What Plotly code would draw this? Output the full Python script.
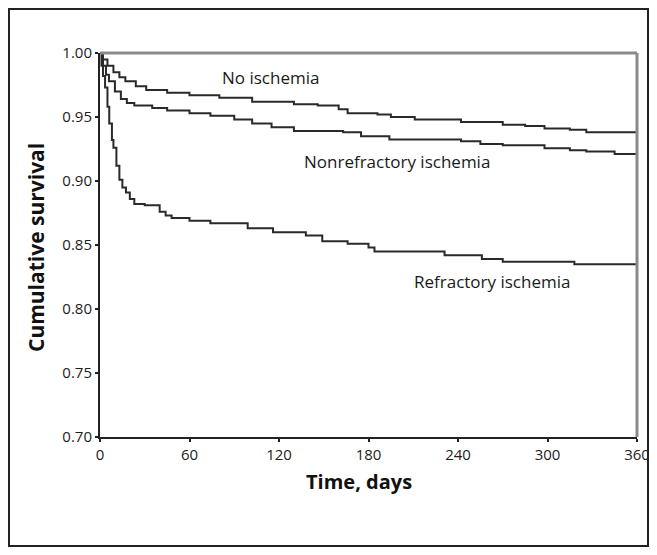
import plotly.graph_objects as go

# Kaplan-Meier style survival estimates
no_isch_t = [0, 2, 5, 9, 13, 17, 24, 31, 45, 60, 80, 102, 130, 146, 160, 166, 186, 195, 211, 242, 270, 285, 298, 315, 326, 360]
no_isch_s = [1.000, 0.995, 0.990, 0.985, 0.981, 0.978, 0.974, 0.971, 0.969, 0.967, 0.965, 0.962, 0.960, 0.959, 0.956, 0.953, 0.952, 0.950, 0.948, 0.946, 0.944, 0.943, 0.941, 0.940, 0.938, 0.937]

nonref_t = [0, 2, 4, 6, 10, 14, 18, 23, 35, 45, 60, 74, 90, 102, 115, 130, 163, 175, 194, 242, 255, 270, 298, 315, 326, 345, 360]
nonref_s = [1.000, 0.990, 0.983, 0.978, 0.970, 0.964, 0.961, 0.959, 0.957, 0.955, 0.953, 0.951, 0.948, 0.945, 0.942, 0.939, 0.938, 0.935, 0.9325, 0.931, 0.929, 0.928, 0.9256, 0.924, 0.923, 0.921, 0.920]

ref_t = [0, 1, 2, 3.4, 5, 6.2, 8, 9, 11, 13, 15, 17.4, 20, 23, 30, 40, 44, 48, 60, 74, 99, 116, 138, 149, 166, 180, 184, 231, 256, 270, 318, 360]
ref_s = [1.000, 0.990, 0.982, 0.973, 0.958, 0.945, 0.932, 0.926, 0.912, 0.901, 0.895, 0.891, 0.886, 0.882, 0.881, 0.876, 0.873, 0.871, 0.869, 0.867, 0.863, 0.860, 0.8575, 0.853, 0.851, 0.848, 0.845, 0.842, 0.839, 0.837, 0.835, 0.834]

x_ticks = [0, 60, 120, 180, 240, 300, 360]
y_ticks = [0.70, 0.75, 0.80, 0.85, 0.90, 0.95, 1.00]
y_tick_labels = ["0.70", "0.75", "0.80", "0.85", "0.90", "0.95", "1.00"]

curve_labels = ["No ischemia", "Nonrefractory ischemia", "Refractory ischemia"]
label_x = [114, 199, 263]
label_y = [0.9805, 0.9150, 0.8215]

FONT = "Open Sans, Arial, sans-serif"
LINE = "#2a2a2a"

fig = go.Figure()
for t, s, name in [(no_isch_t, no_isch_s, curve_labels[0]),
                   (nonref_t, nonref_s, curve_labels[1]),
                   (ref_t, ref_s, curve_labels[2])]:
    fig.add_trace(go.Scatter(x=t, y=s, mode="lines", name=name,
                             line=dict(color=LINE, width=2, shape="hv"),
                             showlegend=False, hoverinfo="x+y+name"))

for txt, lx, ly in zip(curve_labels, label_x, label_y):
    fig.add_annotation(x=lx, y=ly, xref="x", yref="y", text=txt, showarrow=False,
                       xanchor="center", yanchor="middle",
                       font=dict(family=FONT, size=17, color="#1a1a1a"))

# axis titles
fig.add_annotation(x=-0.1192, y=0.4948, xref="paper", yref="paper", text="<b>Cumulative survival</b>",
                   textangle=-90, showarrow=False, xanchor="center", yanchor="middle",
                   font=dict(family=FONT, size=21, color="#111"))
fig.add_annotation(x=0.4823, y=-0.1146, xref="paper", yref="paper", text="<b>Time, days</b>",
                   showarrow=False, xanchor="center", yanchor="middle",
                   font=dict(family=FONT, size=20, color="#111"))

# top and right frame of the plot area (grey)
fig.add_shape(type="line", xref="paper", yref="paper", x0=0, x1=1, y0=1, y1=1,
              line=dict(color="#8a8a8a", width=3))
fig.add_shape(type="line", xref="paper", yref="paper", x0=1, x1=1, y0=0, y1=1,
              line=dict(color="#8a8a8a", width=3))
# outer figure border
fig.add_shape(type="rect", xref="paper", yref="paper", x0=-0.1695, x1=1.0205, y0=-0.2839, y1=1.1146,
              line=dict(color="#222", width=2))

fig.update_layout(
    width=649, height=539,
    margin=dict(l=92, r=20, t=45, b=110),
    paper_bgcolor="white", plot_bgcolor="white",
    font=dict(family=FONT, color="#222"),
)
fig.update_xaxes(range=[0, 360], tickvals=x_ticks, ticktext=[str(v) for v in x_ticks],
                 showgrid=False, zeroline=False, showline=True, linecolor="#222", linewidth=2,
                 ticks="outside", ticklen=3, tickcolor="#222", tickwidth=2, automargin=False,
                 ticklabeloverflow="allow",
                 tickfont=dict(family=FONT, size=15, color="#222"))
fig.update_yaxes(range=[0.70, 1.00], tickvals=y_ticks, ticktext=y_tick_labels,
                 showgrid=False, zeroline=False, showline=True, linecolor="#222", linewidth=2,
                 ticks="outside", ticklen=3, tickcolor="#222", tickwidth=2, automargin=False,
                 ticklabeloverflow="allow",
                 tickfont=dict(family=FONT, size=15, color="#222"))

fig.write_html("out.html")
